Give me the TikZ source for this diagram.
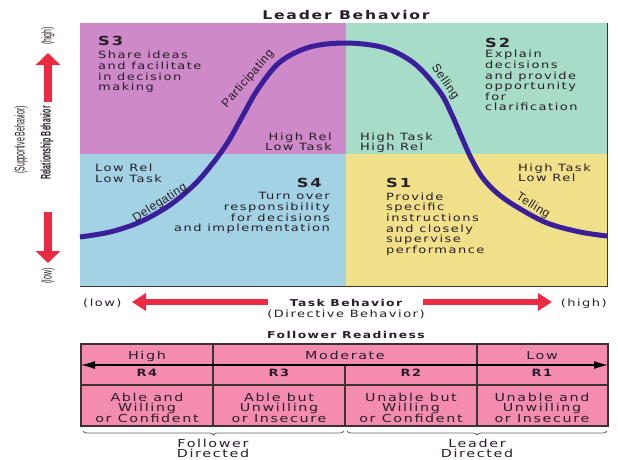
\documentclass[tikz,border=0pt]{standalone}
\usepackage{fontspec}
\setmainfont{DejaVu Sans}[FakeStretch=1.3,LetterSpace=15]
\newfontfamily\narrowfont{Liberation Sans}[FakeStretch=0.5]
\newfontfamily\curvefont{Liberation Sans}[LetterSpace=4]
\usetikzlibrary{arrows.meta,decorations.pathreplacing}

\definecolor{qparticipate}{RGB}{205,137,200}
\definecolor{qsell}{RGB}{166,220,200}
\definecolor{qdelegate}{RGB}{162,210,228}
\definecolor{qtell}{RGB}{240,224,138}
\definecolor{readypink}{RGB}{244,140,176}
\definecolor{arrowred}{RGB}{236,42,67}
\definecolor{curveblue}{RGB}{58,30,154}
\definecolor{ink}{RGB}{40,30,40}
\definecolor{rule}{RGB}{60,50,50}

\begin{document}
\begin{tikzpicture}[x=1pt,y=-1pt,
  txt/.style={inner sep=0pt, text=ink, font=\fontsize{10}{10.6}\selectfont},
  tabtxt/.style={inner sep=0pt, text=ink, font=\fontsize{11}{10}\selectfont, align=center},
  stylenum/.style={inner sep=0pt, text=ink, font=\bfseries\fontsize{12.5}{12}\selectfont},
  heading/.style={inner sep=0pt, text=ink, font=\bfseries\fontsize{9.5}{10}\selectfont},
  sidelabel/.style={inner sep=0pt, text=ink, rotate=90, font=\narrowfont\fontsize{14}{14}\selectfont},
  curvelabel/.style={inner sep=0pt, text=ink, font=\curvefont\fontsize{12}{12}\selectfont},
  bigarrow/.style={draw=arrowred, line width=8pt, -{Triangle[length=12pt,width=24pt]}},
  axisarrow/.style={draw=arrowred, line width=6pt, -{Triangle[length=14pt,width=17pt]}},
  gridline/.style={draw=rule, line width=1.2pt},
  bracket/.style={draw=black!60, line width=0.8pt, decorate, decoration={brace, mirror, amplitude=4pt}}
]
\useasboundingbox (0,0) rectangle (618,459);

% ---- the four leadership quadrants ----
\fill[qparticipate] (80,23) rectangle (346,154);
\fill[qsell] (346,23) rectangle (607,154);
\fill[qdelegate] (80,154) rectangle (346,286);
\fill[qtell] (346,154) rectangle (607,286);
\draw[draw=rule, line width=1pt] (80,286) -- (607,286) -- (607,23);

\node[heading, font=\bfseries\fontsize{12}{12}\selectfont, anchor=base] (title) at (346,19) {Leader Behavior};

% S3
\node[stylenum, anchor=base west] (s3) at (98,45) {S3};
\node[txt, anchor=north west, align=left] (s3text) at (98,51) {Share ideas\\and facilitate\\in decision\\making};
\node[txt, anchor=north east, align=right] (s3level) at (332,132.5) {High Rel\\Low Task};
% S2
\node[stylenum, anchor=base west] (s2) at (485,47) {S2};
\node[txt, anchor=north west, align=left] (s2text) at (485,50) {Explain\\decisions\\and provide\\opportunity\\for\\clarification};
\node[txt, anchor=north west, align=left] (s2level) at (360,132.5) {High Task\\High Rel};
% S4
\node[txt, anchor=north west, align=left] (s4level) at (95,164) {Low Rel\\Low Task};
\node[stylenum, anchor=base east] (s4) at (322,187) {S4};
\node[txt, anchor=north east, align=right] (s4text) at (330,192.5) {Turn over\\responsibility\\for decisions\\and implementation};
% S1
\node[stylenum, anchor=base west] (s1) at (386,187) {S1};
\node[txt, anchor=north west, align=left] (s1text) at (386,192.5) {Provide\\specific\\instructions\\and closely\\supervise\\performance};
\node[txt, anchor=north west, align=left] (s1level) at (518,163.5) {High Task\\Low Rel};

% ---- the bell-shaped style curve ----
\draw[curveblue, line width=5pt] plot[smooth, tension=0.55] coordinates {
  (80,237) (110,232) (140,222) (170,205) (195,184) (213,163) (228,142)
  (242,117) (258,89) (280,62) (310,47) (347,43) (385,48) (415,64)
  (440,92) (452,115) (462,138) (471,158) (482,177) (497,193) (517,207)
  (547,223) (580,232) (607,236)};
\node[curvelabel, rotate=49] (participating) at (248,79) {Participating};
\node[curvelabel, rotate=-55] (selling) at (445,82) {Selling};
\node[curvelabel, rotate=33] (delegating) at (160,203) {Delegating};
\node[curvelabel, rotate=-32] (telling) at (533,206) {Telling};

% ---- vertical axis ----
\coordinate (upfrom) at (48,102);
\coordinate (upto) at (48,53);
\coordinate (downfrom) at (48,212);
\coordinate (downto) at (48,263);
\draw[bigarrow] (upfrom) -- (upto);
\draw[bigarrow] (downfrom) -- (downto);
\node[sidelabel] (relhigh) at (48,36) {(high)};
\node[sidelabel, font=\narrowfont\bfseries\fontsize{14}{14}\selectfont] (relaxis) at (47,143) {Relationship Behavior};
\node[sidelabel] (supportive) at (21,140) {(Supportive Behavior)};
\node[sidelabel] (rellow) at (48,276) {(low)};

% ---- horizontal axis ----
\node[txt, anchor=base west] (tasklow) at (83,306) {(low)};
\node[txt, anchor=base east] (taskhigh) at (607,306) {(high)};
\node[heading, anchor=base] (taskaxis) at (346,306) {Task Behavior};
\node[txt, anchor=base] (directive) at (346,317) {(Directive Behavior)};
\coordinate (leftfrom) at (268,302);
\coordinate (leftto) at (132,302);
\coordinate (rightfrom) at (423,302);
\coordinate (rightto) at (552,302);
\draw[axisarrow] (leftfrom) -- (leftto);
\draw[axisarrow] (rightfrom) -- (rightto);

% ---- follower readiness table ----
\node[heading, anchor=base] (readiness) at (346,338) {Follower Readiness};
\fill[readypink] (81,344) rectangle (608,426);
\coordinate (tl) at (81,344);
\coordinate (br) at (608,426);
\draw[gridline] (tl) rectangle (br);
\draw[gridline] (81,385) -- (608,385);
\draw[gridline] (213,344) -- (213,426);
\draw[gridline] (477,344) -- (477,426);
\draw[gridline] (345,365) -- (345,426);
\coordinate (rangeleft) at (81,365);
\coordinate (rangeright) at (608,365);
\draw[draw=black, line width=1.2pt, {Latex[length=14pt,width=8pt]}-{Latex[length=14pt,width=8pt]}] (rangeleft) -- (rangeright);

\node[tabtxt, anchor=base] (high) at (147,359) {High};
\node[tabtxt, anchor=base] (moderate) at (345,359) {Moderate};
\node[tabtxt, anchor=base] (low) at (542,359) {Low};
\node[tabtxt, anchor=base, font=\bfseries\fontsize{10}{10}\selectfont] (r4) at (147,376) {R4};
\node[tabtxt, anchor=base, font=\bfseries\fontsize{10}{10}\selectfont] (r3) at (279,376) {R3};
\node[tabtxt, anchor=base, font=\bfseries\fontsize{10}{10}\selectfont] (r2) at (411,376) {R2};
\node[tabtxt, anchor=base, font=\bfseries\fontsize{10}{10}\selectfont] (r1) at (542,376) {R1};
\node[tabtxt, anchor=north] (r4text) at (147,392.5) {Able and\\Willing\\or Confident};
\node[tabtxt, anchor=north] (r3text) at (279,392.5) {Able but\\Unwilling\\or Insecure};
\node[tabtxt, anchor=north] (r2text) at (411,392.5) {Unable but\\Willing\\or Confident};
\node[tabtxt, anchor=north] (r1text) at (542,392.5) {Unable and\\Unwilling\\or Insecure};

% ---- who directs ----
\coordinate (fbl) at (83,431);
\coordinate (fbr) at (344,431);
\coordinate (lbl) at (347,431);
\coordinate (lbr) at (607,431);
\draw[bracket] (fbl) -- (fbr);
\draw[bracket] (lbl) -- (lbr);
\node[tabtxt, anchor=north] (follower) at (213,438.5) {Follower\\Directed};
\node[tabtxt, anchor=north] (leader) at (477,438.5) {Leader\\Directed};
\end{tikzpicture}
\end{document}
